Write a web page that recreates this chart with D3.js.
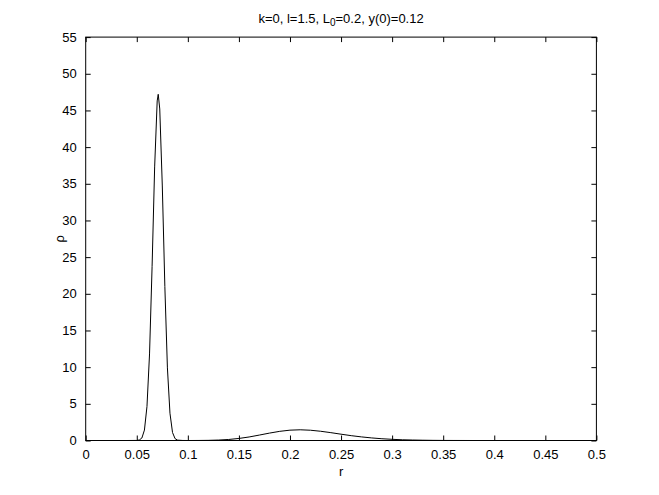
<!DOCTYPE html>
<html>
<head>
<meta charset="utf-8">
<script src="https://cdn.jsdelivr.net/npm/d3@7"></script>
<style>
  body { margin: 0; background: #fff; }
  svg { font-family: "Liberation Sans", Arial, sans-serif; }
</style>
</head>
<body>
<svg width="659" height="495"></svg>
<script>
// values
var rValues = [0, 0.04, 0.05, 0.0525, 0.055, 0.0575, 0.06, 0.0625, 0.065, 0.0675, 0.07, 0.071, 0.0725,
  0.075, 0.0775, 0.08, 0.0825, 0.085, 0.0875, 0.09, 0.095, 0.10, 0.11, 0.12, 0.13, 0.14, 0.15, 0.16,
  0.17, 0.18, 0.19, 0.20, 0.21, 0.22, 0.23, 0.24, 0.25, 0.26, 0.27, 0.28, 0.29, 0.30, 0.31, 0.32,
  0.33, 0.34, 0.35, 0.36, 0.38, 0.42, 0.5];
var rhoValues = [0, 0, 0.01, 0.07, 0.34, 1.42, 4.64, 11.8, 23.7, 37.3, 46.3, 47.2, 45.2,
  34.7, 21.0, 9.9, 3.72, 1.09, 0.25, 0.05, 0.005, 0, 0.005, 0.02, 0.06, 0.14, 0.28, 0.48,
  0.74, 1.01, 1.25, 1.41, 1.46, 1.40, 1.26, 1.07, 0.86, 0.66, 0.49, 0.35, 0.24, 0.16, 0.10, 0.065,
  0.04, 0.02, 0.01, 0.005, 0, 0, 0];
var xTicks = [0, 0.05, 0.1, 0.15, 0.2, 0.25, 0.3, 0.35, 0.4, 0.45, 0.5];
var yTicks = [0, 5, 10, 15, 20, 25, 30, 35, 40, 45, 50, 55];

var svg = d3.select("svg"),
    width = +svg.attr("width"),
    height = +svg.attr("height");

// matlab default axes position
var axLeft = 85.7, axRight = 596.4, axTop = 37.1, axBottom = 440.5;

var x = d3.scaleLinear().domain([0, 0.5]).range([axLeft, axRight]);
var y = d3.scaleLinear().domain([0, 55]).range([axBottom, axTop]);
var tickLen = 5;

var g = svg.append("g");

// curve
var line = d3.line()
    .x(function(d, i) { return x(rValues[i]); })
    .y(function(d) { return y(d); });

g.append("path")
    .datum(rhoValues)
    .attr("fill", "none")
    .attr("stroke", "#000")
    .attr("stroke-width", 1)
    .attr("d", line);

// box
g.append("rect")
    .attr("x", axLeft).attr("y", axTop)
    .attr("width", axRight - axLeft).attr("height", axBottom - axTop)
    .attr("fill", "none").attr("stroke", "#000").attr("stroke-width", 1);

// x ticks (bottom + top, inward)
var xAxis = d3.axisBottom(x).tickValues(xTicks).tickSizeInner(-tickLen).tickSizeOuter(0)
    .tickPadding(9).tickFormat(function(d) { return String(+d.toFixed(2)); });
var gx = g.append("g").attr("transform", "translate(0," + axBottom + ")").call(xAxis);
var gxTop = g.append("g").attr("transform", "translate(0," + axTop + ")")
    .call(d3.axisTop(x).tickValues(xTicks).tickSizeInner(-tickLen).tickSizeOuter(0).tickFormat(""));

// y ticks (left + right, inward)
var gy = g.append("g").attr("transform", "translate(" + axLeft + ",0)")
    .call(d3.axisLeft(y).tickValues(yTicks).tickSizeInner(-tickLen).tickSizeOuter(0).tickPadding(9));
var gyRight = g.append("g").attr("transform", "translate(" + axRight + ",0)")
    .call(d3.axisRight(y).tickValues(yTicks).tickSizeInner(-tickLen).tickSizeOuter(0).tickFormat(""));

[gx, gxTop, gy, gyRight].forEach(function(a) {
  a.select(".domain").remove();
  a.selectAll("line").attr("stroke", "#000");
  a.selectAll("text").attr("fill", "#000").style("font-size", "13px")
    .style("font-family", "'Liberation Sans', Arial, sans-serif");
});

// labels
svg.append("text")
    .attr("x", (axLeft + axRight) / 2).attr("y", 476)
    .attr("text-anchor", "middle").style("font-size", "13px")
    .text("r");

svg.append("text")
    .attr("transform", "translate(64," + ((axTop + axBottom) / 2) + ") rotate(-90)")
    .attr("text-anchor", "middle").style("font-size", "13px")
    .text("ρ");

var title = svg.append("text")
    .attr("x", (axLeft + axRight) / 2).attr("y", 23)
    .attr("text-anchor", "middle").style("font-size", "13px");
title.append("tspan").text("k=0, l=1.5, L");
title.append("tspan").attr("baseline-shift", "-30%").style("font-size", "10px").text("0");
title.append("tspan").text("=0.2, y(0)=0.12");
</script>
</body>
</html>
